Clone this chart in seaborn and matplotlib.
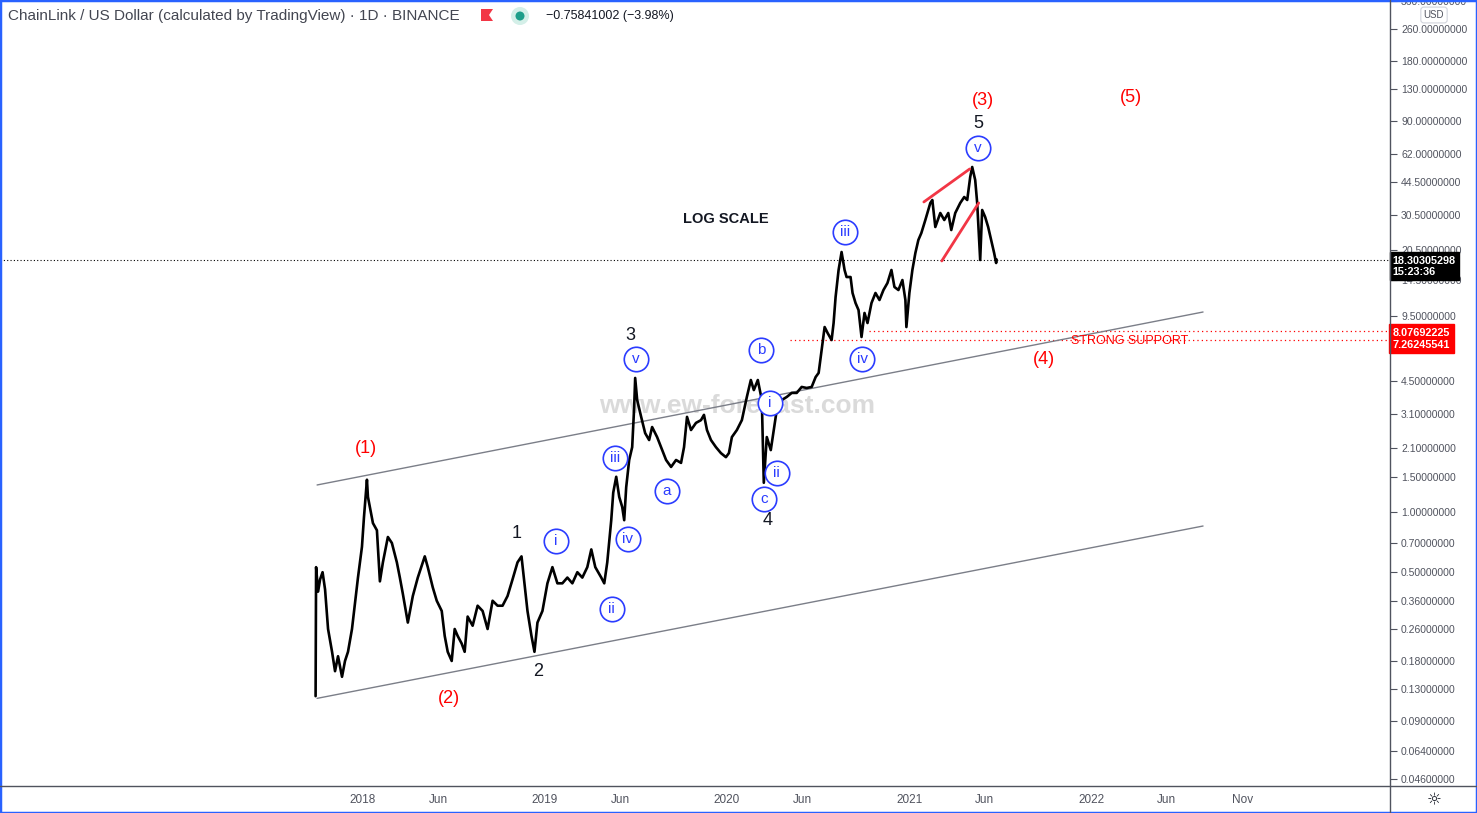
import numpy as np
import pandas as pd
import seaborn as sns
import matplotlib.pyplot as plt
import matplotlib.dates as mdates
import matplotlib.ticker as mticker
from matplotlib.patches import Rectangle, Polygon, Ellipse
from matplotlib.lines import Line2D
from matplotlib.transforms import blended_transform_factory

# LINK/USD closes (log scale)
dates = [
    "2017-09-28", "2017-09-29", "2017-10-03", "2017-10-07", "2017-10-12", "2017-10-17", "2017-10-23",
    "2017-10-31", "2017-11-06", "2017-11-12", "2017-11-20", "2017-11-26", "2017-12-02", "2017-12-10",
    "2017-12-16", "2017-12-22", "2017-12-30",
    "2018-01-03", "2018-01-09", "2018-01-11", "2018-01-17", "2018-01-21", "2018-01-29", "2018-02-04",
    "2018-02-10", "2018-02-20", "2018-02-28", "2018-03-10", "2018-03-16", "2018-03-22", "2018-04-01",
    "2018-04-11", "2018-04-21", "2018-05-05", "2018-05-11", "2018-05-21", "2018-05-29", "2018-06-08",
    "2018-06-14", "2018-06-20", "2018-06-28", "2018-07-04", "2018-07-10", "2018-07-18", "2018-07-24",
    "2018-07-30", "2018-08-09", "2018-08-19", "2018-08-29", "2018-09-08", "2018-09-18", "2018-09-28",
    "2018-10-08", "2018-10-18", "2018-10-28", "2018-11-07", "2018-11-15", "2018-11-21", "2018-11-27",
    "2018-12-05", "2018-12-11", "2018-12-17", "2018-12-27",
    "2019-01-06", "2019-01-16", "2019-01-26", "2019-02-05", "2019-02-15", "2019-02-25", "2019-03-07",
    "2019-03-17", "2019-03-27", "2019-04-04", "2019-04-12", "2019-04-24", "2019-04-30", "2019-05-06",
    "2019-05-14", "2019-05-18", "2019-05-24", "2019-05-30", "2019-06-05", "2019-06-09", "2019-06-13",
    "2019-06-19", "2019-06-25", "2019-06-29", "2019-07-01", "2019-07-05", "2019-07-13", "2019-07-21",
    "2019-07-29", "2019-08-04", "2019-08-14", "2019-08-22", "2019-09-01", "2019-09-11", "2019-09-21",
    "2019-10-01", "2019-10-07", "2019-10-13", "2019-10-21", "2019-10-31", "2019-11-10", "2019-11-16",
    "2019-11-22", "2019-11-30", "2019-12-10", "2019-12-20", "2019-12-30",
    "2020-01-05", "2020-01-11", "2020-01-21", "2020-01-31", "2020-02-10", "2020-02-18", "2020-02-24",
    "2020-03-03", "2020-03-11", "2020-03-15", "2020-03-21", "2020-03-29", "2020-04-04", "2020-04-10",
    "2020-04-20", "2020-04-30", "2020-05-10", "2020-05-20", "2020-05-30", "2020-06-09", "2020-06-19",
    "2020-06-27", "2020-07-03", "2020-07-09", "2020-07-15", "2020-07-21", "2020-07-29", "2020-08-02",
    "2020-08-06", "2020-08-12", "2020-08-18", "2020-08-24", "2020-08-28", "2020-09-05", "2020-09-09",
    "2020-09-15", "2020-09-21", "2020-09-27", "2020-10-03", "2020-10-09", "2020-10-17", "2020-10-25",
    "2020-11-02", "2020-11-10", "2020-11-18", "2020-11-26", "2020-12-02", "2020-12-10", "2020-12-18",
    "2020-12-24", "2020-12-26",
    "2021-01-01", "2021-01-07", "2021-01-13", "2021-01-19", "2021-01-25", "2021-02-02", "2021-02-12",
    "2021-02-16", "2021-02-22", "2021-03-04", "2021-03-12", "2021-03-20", "2021-03-26", "2021-04-03",
    "2021-04-13", "2021-04-21", "2021-04-27", "2021-05-03", "2021-05-07", "2021-05-13", "2021-05-17",
    "2021-05-23", "2021-05-27", "2021-06-02", "2021-06-08", "2021-06-14", "2021-06-20", "2021-06-24",
    "2021-06-25",
]
closes = [
    0.12, 0.53, 0.40, 0.46, 0.50, 0.41, 0.26,
    0.20, 0.16, 0.19, 0.15, 0.18, 0.20, 0.26,
    0.35, 0.47, 0.67,
    0.94, 1.45, 1.19, 0.99, 0.88, 0.81, 0.45,
    0.56, 0.75, 0.70, 0.56, 0.47, 0.39, 0.28,
    0.38, 0.47, 0.60, 0.53, 0.42, 0.36, 0.32,
    0.24, 0.20, 0.18, 0.26, 0.24, 0.22, 0.20,
    0.30, 0.27, 0.34, 0.32, 0.26, 0.36, 0.34,
    0.34, 0.38, 0.46, 0.56, 0.60, 0.44, 0.32,
    0.24, 0.20, 0.28, 0.32,
    0.44, 0.53, 0.44, 0.44, 0.47, 0.44, 0.50,
    0.47, 0.53, 0.65, 0.53, 0.47, 0.44, 0.56,
    0.91, 1.25, 1.50, 1.19, 1.06, 0.91, 1.33,
    1.82, 2.11, 3.35, 4.68, 3.63, 2.99, 2.48,
    2.29, 2.66, 2.37, 2.11, 1.82, 1.68, 1.82,
    1.76, 2.11, 2.99, 2.57, 2.79, 2.88, 3.06,
    2.57, 2.29, 2.11, 1.97, 1.88,
    1.97, 2.37, 2.57, 2.88, 3.76, 4.57, 4.07,
    4.57, 3.63, 1.40, 2.37, 2.04, 2.57, 3.24,
    3.63, 3.76, 3.94, 3.94, 4.22, 4.17, 4.22,
    4.73, 4.96, 6.46, 8.41, 7.85, 7.24, 8.81,
    11.89, 16.22, 19.95, 16.22, 14.96, 14.96, 12.45,
    11.09, 10.23, 7.50, 9.89, 8.81, 11.09, 12.45,
    11.48, 12.88, 13.96, 16.22, 13.34, 12.88, 14.45,
    11.48, 8.41,
    12.45, 16.22, 19.72, 22.91, 24.83, 28.84, 35.08,
    36.31, 26.61, 31.26, 28.84, 31.26, 25.70, 31.26,
    35.08, 37.58, 36.31, 47.32, 53.09, 45.71, 35.08,
    18.20, 32.36, 29.85, 26.61, 22.91, 19.72, 17.58,
    18.30,
]

last_price = 18.30305298
support_hi = 8.07692225
support_lo = 7.26245541

# channel lines (start, end)
channel_dates = ["2017-10-01", "2022-08-13"]
channel_upper = [1.365, 10.0]
channel_lower = [0.117, 0.851]

# ending diagonal lines
wedge_top_dates = ["2021-01-30", "2021-05-02"]
wedge_top = [35.5, 51.9]
wedge_bot_dates = ["2021-03-07", "2021-05-20"]
wedge_bot = [18.0, 35.1]

# wave labels: text, date, price
red_labels = [("(1)", "2018-01-07", 2.07), ("(2)", "2018-06-22", 0.117), ("(3)", "2021-05-28", 114.8),
              ("(4)", "2021-09-28", 5.82), ("(5)", "2022-03-21", 117.5)]
black_labels = [("1", "2018-11-06", 0.785), ("2", "2018-12-18", 0.160), ("3", "2019-06-22", 7.67),
                ("4", "2020-03-23", 0.912), ("5", "2021-05-20", 88.1)]
blue_labels = [("i", "2019-01-23", 0.716), ("ii", "2019-05-15", 0.327), ("iii", "2019-05-21", 1.862),
               ("iv", "2019-06-16", 0.733), ("v", "2019-07-02", 5.82), ("a", "2019-09-02", 1.274),
               ("b", "2020-03-09", 6.46), ("c", "2020-03-15", 1.161), ("i", "2020-03-27", 3.51),
               ("ii", "2020-04-10", 1.567), ("iii", "2020-08-25", 25.1), ("iv", "2020-09-28", 5.82),
               ("v", "2021-05-18", 66.1)]

ytick_vals = [360, 260, 180, 130, 90, 62, 44.5, 30.5, 20.5, 14.5, 9.5, 4.5, 3.1, 2.1, 1.5, 1.0,
              0.7, 0.5, 0.36, 0.26, 0.18, 0.13, 0.09, 0.064, 0.046]
xtick_dates = ["2018-01-01", "2018-06-01", "2019-01-01", "2019-06-01", "2020-01-01", "2020-06-01",
               "2021-01-01", "2021-06-01", "2022-01-01", "2022-06-01", "2022-11-01"]
xtick_labels = ["2018", "Jun", "2019", "Jun", "2020", "Jun", "2021", "Jun", "2022", "Jun", "Nov"]

sns.set_style("white")
plt.rcParams['font.family'] = ['Liberation Sans', 'DejaVu Sans']

W, H = 1477, 813
fig = plt.figure(figsize=(W / 100, H / 100), dpi=100)
ax = fig.add_axes([0, 27 / H, 1390 / W, 786 / H])

df = pd.DataFrame({"date": pd.to_datetime(dates), "close": closes})
sns.lineplot(data=df, x="date", y="close", ax=ax, color="black", lw=1.9, zorder=4)

ax.set_yscale("log")
ax.set_ylim(0.04266, 363.1)
ax.set_xlim(pd.Timestamp("2016-01-04"), pd.Timestamp("2023-08-23"))
ax.set_xlabel("")
ax.set_ylabel("")

# channel
cd = pd.to_datetime(channel_dates)
ax.plot(cd, channel_upper, color="#7b7e88", lw=1.0, zorder=3)
ax.plot(cd, channel_lower, color="#7b7e88", lw=1.0, zorder=3)

# ending diagonal
ax.plot(pd.to_datetime(wedge_top_dates), wedge_top, color="#f23645", lw=2.0, zorder=5)
ax.plot(pd.to_datetime(wedge_bot_dates), wedge_bot, color="#f23645", lw=2.0, zorder=5)

# horizontal lines
ax.axhline(last_price, color="black", lw=0.8, ls=(0, (1, 2)), zorder=2)
xr = ax.get_xlim()[1]
ax.hlines(support_hi, mdates.date2num(pd.Timestamp("2020-10-12")), xr, color="#ff0000", lw=0.9,
          ls=(0, (1, 2.5)), zorder=2)
ax.hlines(support_lo, mdates.date2num(pd.Timestamp("2020-05-06")), xr, color="#ff0000", lw=0.9,
          ls=(0, (1, 2.5)), zorder=2)

# labels
for t, d, p in red_labels:
    ax.text(pd.Timestamp(d), p, t, color="#ff0000", fontsize=13, ha="center", va="center", zorder=6)
for t, d, p in black_labels:
    ax.text(pd.Timestamp(d), p, t, color="#131722", fontsize=13, ha="center", va="center", zorder=6)
for t, d, p in blue_labels:
    ax.scatter([pd.Timestamp(d)], [p], s=310, facecolor="white", edgecolor="#2b3cff", lw=1.2, zorder=6)
    ax.text(pd.Timestamp(d), p, t, color="#2b3cff", fontsize=11, ha="center", va="center", zorder=7)

ax.text(pd.Timestamp("2019-12-30"), 29.2, "LOG SCALE", fontsize=10.5, fontweight="bold",
        color="#131722", ha="center", va="center", zorder=6)
ax.text(pd.Timestamp("2022-03-19"), 7.15, "STRONG SUPPORT", fontsize=9, color="#ff0000",
        ha="center", va="center", zorder=6)
ax.text(pd.Timestamp("2020-01-21"), 3.39, "www.ew-forecast.com", fontsize=19, fontweight="bold",
        color="#d4d4d4", alpha=0.85, ha="center", va="center", zorder=1)

# axes styling
for s in ["top", "left", "right", "bottom"]:
    ax.spines[s].set_visible(False)
ax.yaxis.tick_right()
ax.yaxis.set_minor_locator(mticker.NullLocator())
ax.set_yticks(ytick_vals)
ax.set_yticklabels([f"{v:.8f}" for v in ytick_vals])
ax.tick_params(axis="y", which="major", direction="out", length=5, width=0.8, color="#50535e",
               labelsize=7.5, labelcolor="#50535e", pad=3)
ax.set_xticks(mdates.date2num(pd.to_datetime(xtick_dates)))
ax.set_xticklabels(xtick_labels)
ax.tick_params(axis="x", which="major", direction="out", length=3, width=0.8, color="#50535e",
               labelsize=8.5, labelcolor="#50535e", pad=3)
ax.grid(False)

# axis frame lines
fig.add_artist(Line2D([1390 / W, 1390 / W], [0, 1], color="#50535e", lw=1.0))
fig.add_artist(Line2D([0, 1], [27 / H, 27 / H], color="#50535e", lw=1.0))

# price tags
btr = blended_transform_factory(ax.transAxes, ax.transData)
ax.annotate("18.30305298\n15:23:36", xy=(1.0, last_price), xycoords=btr, xytext=(2, -5),
            textcoords="offset points", ha="left", va="center", fontsize=7.8, fontweight="bold",
            color="white", linespacing=1.2, annotation_clip=False, zorder=10,
            bbox=dict(boxstyle="square,pad=0.3", fc="black", ec="black"))
ax.annotate("8.07692225\n7.26245541", xy=(1.0, support_hi), xycoords=btr, xytext=(2, -6),
            textcoords="offset points", ha="left", va="center", fontsize=7.8, fontweight="bold",
            color="white", linespacing=1.2, annotation_clip=False, zorder=10,
            bbox=dict(boxstyle="square,pad=0.35", fc="#ff0000", ec="#ff0000"))

# header
fig.text(8 / W, 1 - 16 / H, "ChainLink / US Dollar (calculated by TradingView) · 1D · BINANCE",
         fontsize=11, color="#434651", ha="left", va="center")
fig.add_artist(Polygon([[481 / W, 1 - 9 / H], [493 / W, 1 - 9 / H], [489 / W, 1 - 15 / H],
                        [493 / W, 1 - 21 / H], [481 / W, 1 - 21 / H]], closed=True,
                       transform=fig.transFigure, fc="#f23645", ec="none"))
fig.add_artist(Ellipse((520 / W, 1 - 16 / H), 18 / W, 18 / H, transform=fig.transFigure,
                       fc="#d4efe8", ec="none"))
fig.add_artist(Ellipse((520 / W, 1 - 16 / H), 9 / W, 9 / H, transform=fig.transFigure,
                       fc="#1f9e8a", ec="none"))
fig.text(546 / W, 1 - 16 / H, "\u22120.75841002 (\u22123.98%)", fontsize=9, color="#131722",
         ha="left", va="center")
fig.text(1434 / W, 1 - 15 / H, "USD", fontsize=7, color="#50535e", ha="center", va="center",
         bbox=dict(boxstyle="round,pad=0.3", fc="white", ec="#d1d4dc", lw=0.8), zorder=12)
fig.text(1434 / W, 1 - 800 / H, "\u263c", fontsize=12, color="#131722", ha="center", va="center",
         family="DejaVu Sans")

# outer blue border
fig.add_artist(Rectangle((0, 0), 1, 1, transform=fig.transFigure, fill=False, ec="#2962ff", lw=2.5))

fig.savefig("out.png", dpi=100)
